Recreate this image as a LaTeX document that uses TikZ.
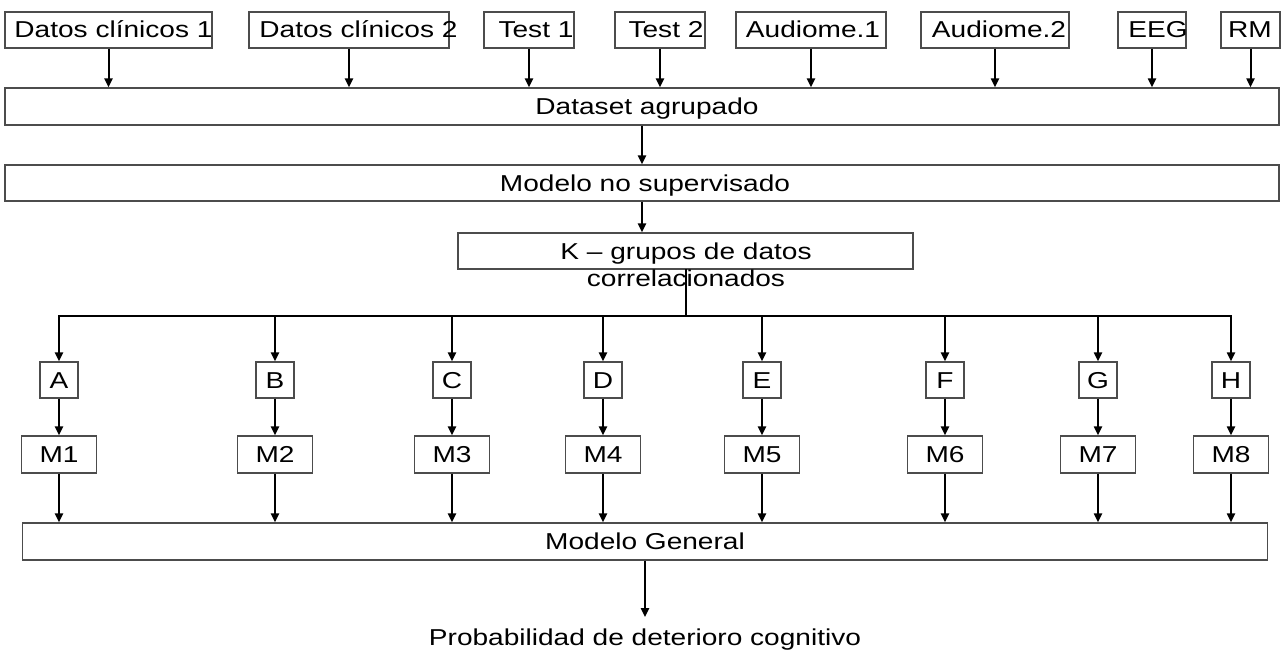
\documentclass[tikz,border=0pt]{standalone}
\usepackage{fontspec}
\setmainfont{Liberation Sans}[FakeStretch=1.22]
\usetikzlibrary{arrows.meta}
\begin{document}
\begin{tikzpicture}[x=1pt,y=-1pt,
  box/.style={draw=black!70, line width=1.2pt, inner sep=0pt, minimum height=36pt},
  lbl/.style={inner sep=0pt, anchor=base, font=\fontsize{23}{27}\selectfont},
  wire/.style={line width=2pt, line cap=rect},
  arr/.style={line width=2pt, -{Triangle[width=8pt,length=9pt]}}]
\useasboundingbox (0,0) rectangle (1284,650);

% source boxes
\node[box, minimum width=207pt] (d1)  at (108.5,30) {};
\node[box, minimum width=200pt] (d2)  at (349,30)   {};
\node[box, minimum width=90pt]  (t1)  at (529,30)   {};
\node[box, minimum width=90pt]  (t2)  at (660,30)   {};
\node[box, minimum width=150pt] (a1)  at (811,30)   {};
\node[box, minimum width=148pt] (a2)  at (995,30)   {};
\node[box, minimum width=68pt]  (eeg) at (1152,30)  {};
\node[box, minimum width=59pt]  (rm)  at (1250.5,30){};
\node[lbl] (d1t)  at (113.5,38) {Datos clínicos 1};
\node[lbl] (d2t)  at (358.5,38) {Datos clínicos 2};
\node[lbl] (t1t)  at (536,38)   {Test 1};
\node[lbl] (t2t)  at (666,38)   {Test 2};
\node[lbl] (a1t)  at (813,38)   {Audiome.1};
\node[lbl] (a2t)  at (999,38)   {Audiome.2};
\node[lbl] (eegt) at (1158,38)  {EEG};
\node[lbl] (rmt)  at (1250,38)  {RM};

% pipeline boxes
\node[box, minimum width=1274pt, minimum height=37pt] (ds)  at (642,106.5) {};
\node[lbl] (dst) at (647,114) {Dataset agrupado};
\node[box, minimum width=1274pt, minimum height=36pt] (mns) at (642,183) {};
\node[lbl] (mnst) at (645,191) {Modelo no supervisado};
\node[box, minimum width=455pt, minimum height=36pt] (kb) at (685.5,251) {};
\node[inner sep=0pt, align=center, font=\fontsize{23}{27}\selectfont] (kt) at (686,265)
  {K – grupos de datos\\correlacionados};

\foreach \s in {d1,d2,t1,t2,a1,a2,eeg,rm}
  \draw[arr] (\s.south) -- (\s.south |- ds.north);
\draw[arr] (ds.south) -- (ds.south |- mns.north);
\draw[arr] (mns.south) -- (mns.south |- kb.north);

% groups and models
\foreach \g/\x/\m in {A/59/1,B/275/2,C/452/3,D/603/4,E/762/5,F/945/6,G/1098/7,H/1231/8}{
  \node[box, minimum width=38pt] (\g) at (\x,380) {};
  \node[lbl] (\g t) at (\x,388) {\g};
  \node[box, minimum width=75pt, minimum height=37pt] (M\m) at (\x,454.5) {};
  \node[lbl] (M\m t) at (\x,462) {M\m};
}
\coordinate (bus) at (686,316);
\draw[wire] (kb.south) -- (kb.south |- bus);
\draw[wire] (A.north |- bus) -- (H.north |- bus);

\node[box, minimum width=1245pt, minimum height=37pt] (mg) at (645,541.5) {};
\node[lbl] (mgt) at (645,549) {Modelo General};
\node[lbl] (out) at (645,645) {Probabilidad de deterioro cognitivo};

\foreach \g/\m in {A/1,B/2,C/3,D/4,E/5,F/6,G/7,H/8}{
  \draw[arr] (\g.north |- bus) -- (\g.north);
  \draw[arr] (\g.south) -- (M\m.north);
  \draw[arr] (M\m.south) -- (M\m.south |- mg.north);
}
\draw[arr, shorten >=11pt] (mg.south) -- (mg.south |- out.north);
\end{tikzpicture}
\end{document}
